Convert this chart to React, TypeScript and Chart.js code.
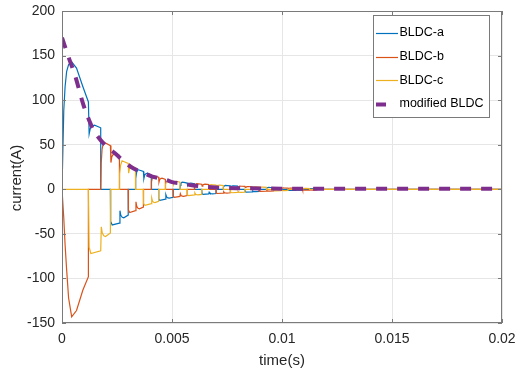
import { useEffect, useRef } from "react";
import { Chart, registerables } from "chart.js";
Chart.register(...registerables);

const xTicks = [0, 0.005, 0.01, 0.015, 0.02];
const yTicks = [-150, -100, -50, 0, 50, 100, 150, 200];
const seriesNames = ["BLDC-a", "BLDC-b", "BLDC-c", "modified BLDC"];
const seriesColors = ["#0072BD", "#D95319", "#EDB120", "#7E2F8E"];
const xTitle = "time(s)";
const yTitle = "current(A)";

// start-up transient (phase a positive, phase b negative)
const initialTime = [0, 0.00008, 0.00014, 0.00021, 0.0003, 0.00044, 0.00066, 0.00095, 0.0012];
const initialA = [0, 88, 115, 132, 140, 143, 136, 115, 98];
const initialB = [0, -32, -62, -90, -122, -143, -136, -113, -98];

// commutation instants (s)
const commutationTime = [
  0.0012, 0.00176, 0.0022, 0.00261, 0.00301, 0.00334, 0.0037, 0.00406, 0.00439, 0.0047,
  0.00505, 0.00536, 0.00569, 0.00602, 0.00635, 0.00667, 0.007, 0.00733, 0.00765, 0.00798,
  0.00831, 0.00864, 0.00896, 0.00929, 0.00962, 0.00995, 0.01027, 0.0106, 0.01093, 0.01125,
  0.01158,
];
// per commutation step: current magnitude after recovery, at end of step, and dip of continuing phase
const stepPeak = [72, 53, 40, 32, 26, 22, 18, 15, 12.5, 10, 9, 8, 7, 6.3, 5.7, 5.2, 4.7, 4.3, 3.9, 3.5, 3.1, 2.7, 2.4, 2.1, 1.8, 1.5, 1.3, 1.1, 1.0, 0.9];
const stepEnd = [69, 49, 38, 29, 24, 20, 16, 13.5, 11, 9, 8, 7, 6.3, 5.7, 5.2, 4.7, 4.3, 3.9, 3.5, 3.2, 2.8, 2.5, 2.2, 1.9, 1.6, 1.4, 1.2, 1.0, 0.9, 0.8];
const stepDip = [62, 42, 30, 24, 18, 14, 12, 10, 8, 6, 5.5, 5, 4.5, 4, 3.6, 3.3, 3, 2.7, 2.5, 2.2, 2, 1.8, 1.6, 1.4, 1.2, 1.0, 0.9, 0.8, 0.7, 0.6];

// modified BLDC envelope
const modifiedTime = [0, 0.00033, 0.00059, 0.00097, 0.00124, 0.00142, 0.00202, 0.00238, 0.00283, 0.00314, 0.00373, 0.00408, 0.00473, 0.005, 0.0056, 0.0059, 0.0066, 0.007, 0.0081, 0.01, 0.012, 0.02];
const modifiedCurrent = [170, 146, 128, 95, 77, 67, 48, 41, 31, 25, 18, 14.5, 10.5, 8, 6, 4.5, 2.6, 1.9, 1.2, 0.7, 0.5, 0.5];

const POS = [0, 0, 1, 1, 2, 2];
const NEG = [1, 2, 2, 0, 0, 1];
function signOf(phase: number, k: number) {
  if (POS[k % 6] === phase) return 1;
  if (NEG[k % 6] === phase) return -1;
  return 0;
}

function buildPhase(phase: number) {
  const pts: { x: number; y: number }[] = [];
  if (phase === 0) initialTime.forEach((t, i) => pts.push({ x: t, y: initialA[i] }));
  else if (phase === 1) initialTime.forEach((t, i) => pts.push({ x: t, y: initialB[i] }));
  else pts.push({ x: 0, y: 0 }, { x: commutationTime[0], y: 0 });
  for (let k = 1; k < commutationTime.length; k++) {
    const t0 = commutationTime[k - 1];
    const t1 = commutationTime[k];
    const d = t1 - t0;
    const s = signOf(phase, k);
    const sPrev = signOf(phase, k - 1);
    const peak = stepPeak[k - 1];
    const end = stepEnd[k - 1];
    const dip = stepDip[k - 1];
    if (s === 0) {
      if (sPrev !== 0) pts.push({ x: t0, y: 0 });
      pts.push({ x: t1, y: 0 });
    } else if (sPrev === 0) {
      if (s > 0) {
        // positive incoming phase: rounded rise
        pts.push(
          { x: t0, y: 0 },
          { x: t0 + 0.05 * d, y: 0.55 * peak },
          { x: t0 + 0.14 * d, y: 0.85 * peak },
          { x: t0 + 0.3 * d, y: peak },
          { x: t0 + 0.55 * d, y: 0.5 * (peak + end) + 0.15 * (peak - end) },
          { x: t1, y: end }
        );
      } else {
        pts.push(
          { x: t0, y: 0 },
          { x: t0 + 0.06 * d, y: -0.9 * peak },
          { x: t0 + 0.2 * d, y: -peak },
          { x: t1, y: -end }
        );
      }
    } else {
      // continuing phase: sharp dip and rounded recovery
      pts.push(
        { x: t0 + 0.06 * d, y: s * dip },
        { x: t0 + 0.16 * d, y: s * (dip + 0.65 * (peak - dip)) },
        { x: t0 + 0.32 * d, y: s * (dip + 0.92 * (peak - dip)) },
        { x: t0 + 0.5 * d, y: s * peak },
        { x: t1, y: s * end }
      );
    }
  }
  const last = commutationTime[commutationTime.length - 1];
  pts.push({ x: last, y: 0 }, { x: 0.02, y: 0 });
  return pts;
}

const FONT = "'Liberation Sans', Arial, sans-serif";
const AXIS = "#7a7a7a";

const framePlugin = {
  id: "matlabFrame",
  afterDatasetsDraw(chart: any) {
    const { ctx, chartArea, scales } = chart;
    const { left, right, top, bottom } = chartArea;
    ctx.save();
    ctx.strokeStyle = AXIS;
    ctx.lineWidth = 1;
    ctx.strokeRect(left + 0.5, top + 0.5, right - left - 1, bottom - top - 1);
    ctx.beginPath();
    xTicks.forEach((v) => {
      const p = Math.round(scales.x.getPixelForValue(v)) + 0.5;
      ctx.moveTo(p, bottom);
      ctx.lineTo(p, bottom - 4);
      ctx.moveTo(p, top);
      ctx.lineTo(p, top + 4);
    });
    yTicks.forEach((v) => {
      const p = Math.round(scales.y.getPixelForValue(v)) + 0.5;
      ctx.moveTo(left, p);
      ctx.lineTo(left + 4, p);
      ctx.moveTo(right, p);
      ctx.lineTo(right - 4, p);
    });
    ctx.stroke();
    ctx.restore();
  },
  afterDraw(chart: any) {
    const { ctx, chartArea } = chart;
    // y axis title
    ctx.save();
    ctx.translate(17, (chartArea.top + chartArea.bottom) / 2 + 11);
    ctx.rotate(-Math.PI / 2);
    ctx.fillStyle = "#262626";
    ctx.font = `15px ${FONT}`;
    ctx.textAlign = "center";
    ctx.textBaseline = "middle";
    ctx.fillText(yTitle, 0, 0);
    ctx.restore();

    // legend
    const w = 116;
    const h = 102;
    const bx = chartArea.right - 13 - w;
    const by = chartArea.top + 4;
    ctx.save();
    ctx.fillStyle = "#ffffff";
    ctx.fillRect(bx, by, w, h);
    ctx.strokeStyle = AXIS;
    ctx.lineWidth = 1;
    ctx.strokeRect(bx + 0.5, by + 0.5, w, h);
    chart.data.datasets.forEach((ds: any, i: number) => {
      const yy = by + 18 + i * 23.6;
      const dashed = ds.borderDash && ds.borderDash.length;
      ctx.beginPath();
      ctx.strokeStyle = ds.borderColor;
      ctx.lineWidth = ds.borderWidth;
      ctx.moveTo(bx + 3, Math.round(yy) + 0.5);
      ctx.lineTo(bx + 3 + (dashed ? ds.borderDash[0] - 1 : 22), Math.round(yy) + 0.5);
      ctx.stroke();
      ctx.fillStyle = "#000000";
      ctx.font = `12.5px ${FONT}`;
      ctx.textAlign = "left";
      ctx.textBaseline = "middle";
      ctx.fillText(ds.label, bx + 26.5, yy);
    });
    ctx.restore();
  },
};

export default function App() {
  const ref = useRef<HTMLCanvasElement | null>(null);
  useEffect(() => {
    document.body.style.margin = "0";
    const canvas = ref.current!;
    const datasets: any[] = [0, 1, 2].map((p) => ({
      label: seriesNames[p],
      data: buildPhase(p),
      borderColor: seriesColors[p],
      borderWidth: 1.2,
      pointRadius: 0,
      tension: 0,
      fill: false,
      order: 4 - p,
    }));
    datasets.push({
      label: seriesNames[3],
      data: modifiedTime.map((t, i) => ({ x: t, y: modifiedCurrent[i] })),
      borderColor: seriesColors[3],
      borderWidth: 4,
      borderDash: [11, 10],
      pointRadius: 0,
      cubicInterpolationMode: "monotone",
      fill: false,
      order: 0,
    });
    const chart = new Chart(canvas, {
      type: "line",
      data: { datasets },
      plugins: [framePlugin],
      options: {
        responsive: false,
        devicePixelRatio: 1,
        animation: false,
        layout: { padding: { top: 11, right: 13, left: 0, bottom: 0 } },
        plugins: { legend: { display: false }, tooltip: { enabled: false } },
        scales: {
          x: {
            type: "linear",
            min: 0,
            max: 0.02,
            afterBuildTicks: (s: any) => {
              s.ticks = xTicks.map((v) => ({ value: v }));
            },
            afterFit: (s: any) => {
              s.height = 52;
              s.paddingLeft = 0;
              s.paddingRight = 0;
            },
            grid: { color: "#e6e6e6", drawTicks: false },
            border: { display: false },
            ticks: {
              padding: 8,
              color: "#262626",
              font: { family: FONT, size: 14 },
              maxRotation: 0,
              callback: (v: any) => String(Number(Number(v).toFixed(6))),
            },
            title: {
              display: true,
              text: xTitle,
              color: "#262626",
              font: { family: FONT, size: 15 },
              padding: { top: 0, bottom: 5 },
            },
          },
          y: {
            type: "linear",
            min: -150,
            max: 200,
            afterBuildTicks: (s: any) => {
              s.ticks = yTicks.map((v) => ({ value: v }));
            },
            afterFit: (s: any) => {
              s.width = 62;
              s.paddingTop = 0;
              s.paddingBottom = 0;
            },
            grid: { color: "#e6e6e6", drawTicks: false },
            border: { display: false },
            ticks: {
              padding: 7,
              color: "#262626",
              font: { family: FONT, size: 14 },
              callback: (v: any) => String(v),
            },
            title: { display: false },
          },
        },
      },
    } as any);
    return () => chart.destroy();
  }, []);
  return (
    <div style={{ width: 515, height: 375 }}>
      <canvas ref={ref} width={515} height={375} />
    </div>
  );
}
